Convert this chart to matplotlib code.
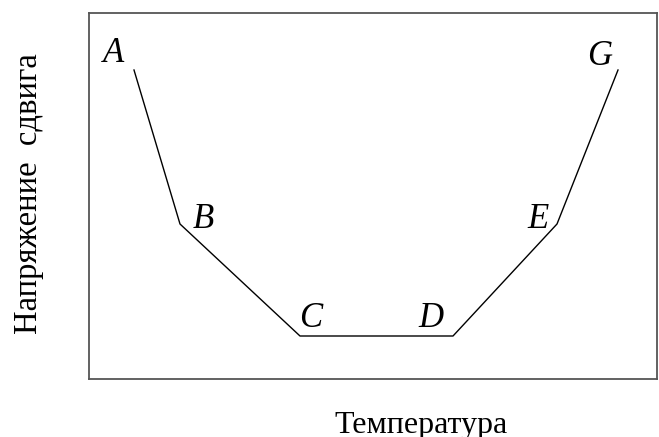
import matplotlib
matplotlib.use("Agg")
import matplotlib.pyplot as plt

labels = ["A", "B", "C", "D", "E", "G"]
temperature = [45, 91, 211, 364, 468, 529]
stress = [309, 155, 43, 43, 155, 309]
label_offsets = [(-20, 8), (23, -4), (11, 9), (-22, 9), (-19, -4), (-18, 5)]

x_label = "Температура"
y_label = "Напряжение  сдвига"

plt.rcParams['font.family'] = ['Liberation Serif', 'DejaVu Serif']

fig = plt.figure(figsize=(6.59, 4.37), dpi=100)
ax = fig.add_axes([89/659, 58/437, 568/659, 366/437])
ax.plot(temperature, stress, color='black', lw=1.0)
ax.set_xlim(0, 568)
ax.set_ylim(0, 366)
ax.set_xticks([])
ax.set_yticks([])
for s in ax.spines.values():
    s.set_color('#555555')
    s.set_linewidth(1.3)

for lab, x, y, off in zip(labels, temperature, stress, label_offsets):
    ax.annotate(lab, (x, y), xytext=off, textcoords='offset pixels',
                ha='center', va='baseline', fontsize=25, style='italic')

fig.text(421/659, 1 - 433/437, x_label, ha='center', va='baseline', fontsize=23)
fig.text(29/659, 1 - 194/437, y_label, ha='center', va='center', rotation=90, fontsize=23.5)

fig.savefig("out.png", dpi=100)
